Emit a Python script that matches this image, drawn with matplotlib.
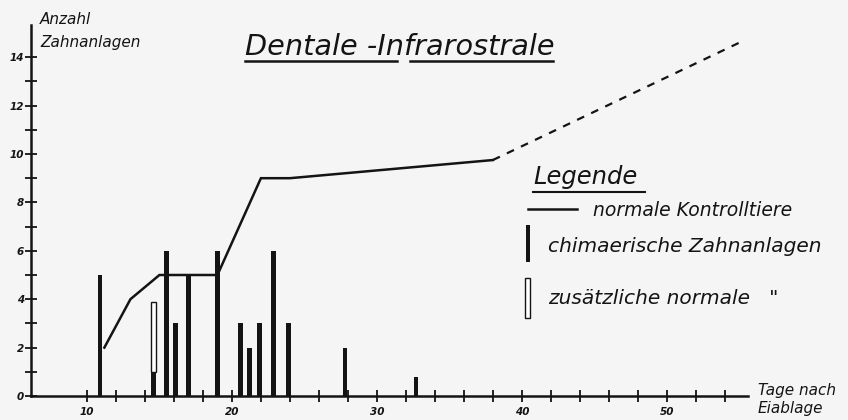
import numpy as np
import matplotlib
matplotlib.use('Agg')
import matplotlib.pyplot as plt
from matplotlib.patches import Rectangle

# Werte
control_days = [11.2, 13, 15, 19, 22, 24, 38]
control_counts = [2, 4, 5, 5, 9, 9, 9.75]
extrapol_days = [38, 55]
extrapol_counts = [9.75, 14.6]

chim_days = [10.9, 15.5, 16.1, 17, 19, 20.6, 21.2, 21.9, 22.9, 23.9, 27.8, 32.7]
chim_counts = [5, 6, 3, 5, 6, 3, 2, 3, 6, 3, 2, 0.8]

extra_day = [14.6]
extra_base = [1]     # schwarzer Anteil
extra_total = [3.9]  # Oberkante des hellen Balkens

x_major = [10, 20, 30, 40, 50]
x_minor = [12, 14, 16, 18, 22, 24, 26, 28, 32, 34, 36, 38, 42, 44, 46, 48, 52, 54]
y_major = [0, 2, 4, 6, 8, 10, 12, 14]
y_minor = [1, 3, 5, 7, 9, 11, 13]

ink = '#141414'
plt.rcParams['font.family'] = ['DejaVu Sans']

fig = plt.figure(figsize=(8.48, 4.2), dpi=100)
fig.patch.set_facecolor('#f5f5f5')

# Hilfsachse in Pixelkoordinaten fuer Texte und Legende
ov = fig.add_axes([0, 0, 1, 1])
ov.set_xlim(0, 848)
ov.set_ylim(420, 0)
ov.axis('off')

ax = fig.add_axes([31 / 848, 24 / 420, (748 - 31) / 848, (396 - 25) / 420])
ax.set_facecolor('none')
ax.set_xlim(6.14, 55.6)
ax.set_ylim(0, 15.33)
for s in ('top', 'right'):
    ax.spines[s].set_visible(False)
for s in ('left', 'bottom'):
    ax.spines[s].set_linewidth(1.8)
    ax.spines[s].set_color(ink)

ax.set_xticks(x_major)
ax.set_xticks(x_minor, minor=True)
ax.set_yticks(y_major)
ax.set_yticks(y_minor, minor=True)
ax.tick_params(which='both', direction='inout', color=ink, width=1.3, length=8)
ax.tick_params(axis='x', pad=4)
ax.tick_params(axis='y', pad=1)
for lab in ax.get_xticklabels() + ax.get_yticklabels():
    lab.set_fontstyle('italic')
    lab.set_fontweight('bold')
    lab.set_fontsize(7.5)
    lab.set_color(ink)

ax.plot(control_days, control_counts, color=ink, lw=1.8, solid_joinstyle='miter')
ax.plot(extrapol_days, extrapol_counts, color=ink, lw=1.6, linestyle=(0, (3.5, 3.5)))

ax.bar(chim_days, chim_counts, width=0.34, color=ink, zorder=3)
ax.bar(extra_day, extra_base, width=0.3, color=ink, zorder=3)
ax.bar(extra_day, np.array(extra_total) - np.array(extra_base), bottom=extra_base,
       width=0.3, facecolor='white', edgecolor=ink, lw=1.0, zorder=3)

# Titel
ov.text(245, 55, 'Dentale -Infrarostrale', fontsize=20.7, fontstyle='italic',
        color=ink, va='baseline', ha='left')
ov.plot([245, 397], [61, 61], color=ink, lw=1.8)
ov.plot([410, 553], [61, 61], color=ink, lw=1.8)

# Achsenbeschriftungen
ov.text(40, 20, 'Anzahl', fontsize=11, fontstyle='italic', color=ink, va='center')
ov.text(40, 42, 'Zahnanlagen', fontsize=11, fontstyle='italic', color=ink, va='center')
ov.text(758, 390, 'Tage nach', fontsize=11, fontstyle='italic', color=ink, va='center')
ov.text(758, 409, 'Eiablage', fontsize=11, fontstyle='italic', color=ink, va='center')

# Legende
ov.text(533, 184, 'Legende', fontsize=17.5, fontstyle='italic', color=ink, va='baseline')
ov.plot([533, 645], [192, 192], color=ink, lw=1.5)
ov.plot([528, 577], [209, 209], color=ink, lw=1.8)
ov.text(593, 210, 'normale Kontrolltiere', fontsize=13.5, fontstyle='italic',
        color=ink, va='center')
ov.add_patch(Rectangle((526, 225), 4, 37, facecolor=ink, edgecolor='none'))
ov.text(548, 246, 'chimaerische Zahnanlagen', fontsize=14.5, fontstyle='italic',
        color=ink, va='center')
ov.add_patch(Rectangle((525, 278), 4.5, 40, facecolor='white', edgecolor=ink, lw=1.0))
ov.text(548, 299, 'zusätzliche normale   "', fontsize=14.5, fontstyle='italic',
        color=ink, va='center')

fig.savefig('out.png', dpi=100, facecolor=fig.get_facecolor())
